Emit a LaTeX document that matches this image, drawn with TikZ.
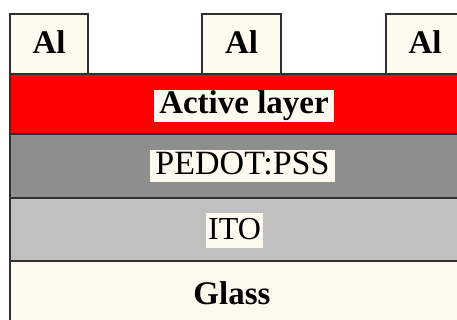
\documentclass[tikz,border=0pt]{standalone}
\usepackage{fontspec}
\setmainfont{Liberation Serif}
\definecolor{cream}{HTML}{FEFAF0}
\definecolor{pedot}{HTML}{8E8E8E}
\definecolor{ito}{HTML}{C0C0C0}
\definecolor{edge}{HTML}{303030}
\tikzset{
  layer/.style={draw=edge, line width=1.6pt},
  contact/.style={draw=edge, line width=1.4pt, fill=cream},
  tag/.style={fill=cream, inner xsep=5pt, inner ysep=1pt,
    text height=23pt, text depth=7pt},
  boldtxt/.style={font=\fontsize{33}{33}\selectfont\bfseries},
  plaintxt/.style={font=\fontsize{34}{34}\selectfont},
}
\begin{document}
\begin{tikzpicture}[x=1pt,y=-1pt]
\useasboundingbox (0,0) rectangle (457,320);
\fill[white] (0,0) rectangle (457,320);
\begin{scope}
\clip (0,0) rectangle (457,320);
% device stack, bottom layers run past the frame
\draw[layer, fill=cream] (10,261) rectangle (470,340);
\draw[layer, fill=ito]   (10,198) rectangle (470,261);
\draw[layer, fill=pedot] (10,134) rectangle (470,198);
\draw[layer, fill=red]   (10,74)  rectangle (470,134);
% aluminium contacts
\draw[contact] (10,14)  rectangle (88,74);
\draw[contact] (202,14) rectangle (281,74);
\draw[contact] (386,14) rectangle (464,74);
\end{scope}
% labels
\node[boldtxt, anchor=base] (al1) at (49,54)  {Al};
\node[boldtxt, anchor=base] (al2) at (241.5,54) {Al};
\node[boldtxt, anchor=base] (al3) at (425,54) {Al};
\node[tag, boldtxt]  (active) at (244,106)   {Active layer};
\node[tag, plaintxt] (pedotlbl) at (242.5,166.5) {PEDOT:PSS};
\node[tag, plaintxt, font=\fontsize{32}{32}\selectfont, inner xsep=2pt,
      text height=25pt, text depth=8pt] (itolbl) at (234.5,230.5) {ITO};
\node[boldtxt, anchor=base] (glass) at (232,304) {Glass};
\end{tikzpicture}
\end{document}
